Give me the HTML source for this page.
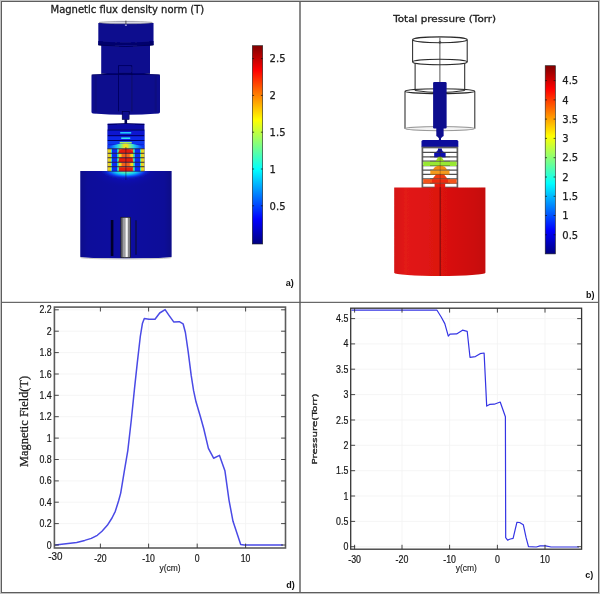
<!DOCTYPE html>
<html lang="en"><head><meta charset="utf-8"><title>Figure</title>
<style>html,body{margin:0;padding:0;background:#fff}svg{display:block}.dj{font-family:"DejaVu Sans","Liberation Sans",sans-serif}.ls{font-family:"Liberation Sans",sans-serif}.se{font-family:"Liberation Serif",serif}</style></head><body>
<svg width="600" height="594" viewBox="0 0 600 594">
<defs>
<linearGradient id="jet" x1="0" y1="0" x2="0" y2="1"><stop offset="0.000" stop-color="#800000"/><stop offset="0.125" stop-color="#ff0000"/><stop offset="0.250" stop-color="#ff8000"/><stop offset="0.375" stop-color="#ffff00"/><stop offset="0.500" stop-color="#80ff80"/><stop offset="0.625" stop-color="#00ffff"/><stop offset="0.750" stop-color="#0080ff"/><stop offset="0.875" stop-color="#0000ff"/><stop offset="1.000" stop-color="#000080"/></linearGradient>
<filter id="b1" x="-5%" y="-5%" width="110%" height="110%"><feGaussianBlur stdDeviation="0.45"/></filter>
<filter id="b2" x="-5%" y="-5%" width="110%" height="110%"><feGaussianBlur stdDeviation="0.8"/></filter>
<radialGradient id="glow" cx="0.5" cy="0.5" r="0.5"><stop offset="0" stop-color="#e0f030"/><stop offset="0.22" stop-color="#50f0b0"/><stop offset="0.42" stop-color="#10c8f8"/><stop offset="0.68" stop-color="#0838f0"/><stop offset="1" stop-color="#0c0c90" stop-opacity="0"/></radialGradient>
<clipPath id="gclip"><rect x="80" y="171.2" width="92" height="30"/></clipPath>
<linearGradient id="cyl" x1="0" y1="0" x2="1" y2="0"><stop offset="0" stop-color="#50505a"/><stop offset="0.3" stop-color="#b4b4ba"/><stop offset="0.6" stop-color="#f8f8f8"/><stop offset="0.8" stop-color="#c0c0c6"/><stop offset="1" stop-color="#60606a"/></linearGradient>
<linearGradient id="redg" x1="0" y1="0" x2="1" y2="0"><stop offset="0" stop-color="#d41412"/><stop offset="0.12" stop-color="#e21a16"/><stop offset="0.5" stop-color="#dc1210"/><stop offset="0.88" stop-color="#cc0e0c"/><stop offset="1" stop-color="#c40c0a"/></linearGradient>
<linearGradient id="lowg" x1="0" y1="0" x2="1" y2="0"><stop offset="0" stop-color="#08088a"/><stop offset="0.08" stop-color="#0a0a9a"/><stop offset="0.5" stop-color="#0b0ba0"/><stop offset="0.92" stop-color="#0a0a98"/><stop offset="1" stop-color="#080886"/></linearGradient>
<radialGradient id="halo" cx="0.5" cy="0.5" r="0.5"><stop offset="0" stop-color="#1030e8" stop-opacity="0.9"/><stop offset="0.5" stop-color="#0c18c8" stop-opacity="0.55"/><stop offset="1" stop-color="#0b0ba0" stop-opacity="0"/></radialGradient>
<linearGradient id="tband" x1="0" y1="0" x2="1" y2="0"><stop offset="0" stop-color="#0a38f0"/><stop offset="0.12" stop-color="#1068ff"/><stop offset="0.27" stop-color="#20d0f0"/><stop offset="0.38" stop-color="#80f080"/><stop offset="0.46" stop-color="#f0e020"/><stop offset="0.54" stop-color="#f0e020"/><stop offset="0.62" stop-color="#80f080"/><stop offset="0.73" stop-color="#20d0f0"/><stop offset="0.88" stop-color="#1068ff"/><stop offset="1" stop-color="#0a38f0"/></linearGradient>
</defs>
<rect width="600" height="594" fill="#fff"/>
<rect x="0" y="0" width="600" height="594" fill="#c2c2c2"/>
<rect x="1" y="1" width="598" height="592" fill="#5e5e5e"/>
<rect x="2" y="2" width="596" height="590" fill="#ffffff"/>
<rect x="299" y="2" width="2" height="590" fill="#8a8a8a"/>
<rect x="2" y="301.8" width="596" height="1.1" fill="#585858"/>
<g id="pa">
<text class="dj" x="50.5" y="12.7" font-size="10" fill="#1c1c1c" stroke="#1c1c1c" stroke-width="0.3">Magnetic flux density norm (T)</text>
<g filter="url(#b1)">
<path d="M98.3 23 L98.3 45 Q125.7 48 153.5 45 L153.5 23 Q125.7 20 98.3 23 Z" fill="#0a0a8e"/>
<ellipse cx="125.7" cy="22.6" rx="26.6" ry="1.25" fill="#d8d8e2" stroke="#666" stroke-width="0.4"/>
<line x1="125.9" y1="20.6" x2="125.9" y2="24.2" stroke="#222" stroke-width="0.7"/>
<rect x="124.9" y="24.6" width="2" height="1.2" fill="#b0b0e0"/>
<path d="M98.3 41 L98.3 45 Q125.7 48 153.5 45 L153.5 41 Q125.7 44 98.3 41 Z" fill="#06066c"/>
<path d="M101.2 45 L101.2 73.5 Q125.7 76 150 73.5 L150 45 Z" fill="#0a0a8e"/>
<path d="M91.5 76 Q91.5 74.6 93 74.6 Q125.7 72.6 158.5 74.6 Q160 74.6 160 76 L160 112 Q160 113.4 158.5 113.5 Q125.7 116 93 113.5 Q91.5 113.4 91.5 112 Z" fill="#0a0a8e"/>
<rect x="94.5" y="76" width="2.2" height="36" fill="#07077a" opacity="0.7"/>
<rect x="154.6" y="76" width="2.2" height="36" fill="#07077a" opacity="0.7"/>
<path d="M98.3 45 Q125.7 48 153.5 45" fill="none" stroke="#04044a" stroke-width="0.8"/>
<path d="M91.5 75 Q125.7 72.5 160 75" fill="none" stroke="#04044a" stroke-width="0.6"/>
<path d="M101.2 73.5 Q125.7 76 150 73.5" fill="none" stroke="#04044a" stroke-width="0.6"/>
<path d="M118.5 111.5 L118.5 65.6 L131.9 65.6 L131.9 111.5 M118.5 73.3 L131.9 73.3" fill="none" stroke="#04044e" stroke-width="0.65"/>
<rect x="122.2" y="111.3" width="6.9" height="8.2" fill="#0a0a8e" stroke="#03033c" stroke-width="0.6"/>
<rect x="124.5" y="119.3" width="2.6" height="4.8" fill="#06065a"/>
<path d="M80.3 171 L171.6 171 L171.6 257 A45.65 1.4 0 0 1 80.3 257 Z" fill="url(#lowg)"/>
<path d="M80.6 257.5 A45.35 1.5 0 0 0 171.3 257.5" fill="none" stroke="#c4c4bc" stroke-width="0.9"/>
<ellipse cx="125.9" cy="170.6" rx="36" ry="17" fill="url(#halo)" clip-path="url(#gclip)"/>
<ellipse cx="125.9" cy="170.6" rx="27" ry="9" fill="url(#glow)" clip-path="url(#gclip)"/>
</g>
<g filter="url(#b1)">
<rect x="107.6" y="123.6" width="36.80000000000001" height="47.6" fill="#0a0aa8"/>
<path d="M107.6 124.6 Q125.7 122.3 144.4 124.6" fill="none" stroke="#03034a" stroke-width="0.8"/>
<rect x="107.6" y="130.4" width="36.80000000000001" height="4.799999999999983" fill="#0b18d0"/>
<rect x="120.2" y="132.0" width="11" height="1.6" fill="#20c8ff"/>
<rect x="107.6" y="136.1" width="36.80000000000001" height="4.200000000000017" fill="#0c28e8"/>
<rect x="121.2" y="137.39999999999998" width="9" height="1.6" fill="#30e0f0"/>
<rect x="107.6" y="140.8" width="36.80000000000001" height="3.799999999999983" fill="#1038f0"/>
<rect x="119.7" y="141.89999999999998" width="12" height="1.6" fill="#a0f060"/>
<line x1="107.6" y1="130" x2="144.4" y2="130" stroke="#04045a" stroke-width="0.9"/>
<line x1="107.6" y1="135.7" x2="144.4" y2="135.7" stroke="#04045a" stroke-width="0.9"/>
<line x1="107.6" y1="140.5" x2="144.4" y2="140.5" stroke="#04045a" stroke-width="0.9"/>
<rect x="107.6" y="144.8" width="36.80000000000001" height="4.2" fill="#0a38f0"/>
<clipPath id="tclip"><rect x="107.6" y="140" width="36.80000000000001" height="8.9"/></clipPath>
<ellipse cx="125.7" cy="149.2" rx="18.4" ry="5.6" fill="url(#tband)" clip-path="url(#tclip)"/>
<rect x="107.60" y="148.80" width="3.4" height="4.48" fill="#e6d424"/>
<rect x="141.00" y="148.80" width="3.4" height="4.48" fill="#e6d424"/>
<rect x="111.00" y="148.80" width="1.1" height="4.48" fill="#30e0d0"/>
<rect x="139.90" y="148.80" width="1.1" height="4.48" fill="#30e0d0"/>
<rect x="112.10" y="148.80" width="5.0" height="4.48" fill="#0a2cf0"/>
<rect x="134.90" y="148.80" width="5.0" height="4.48" fill="#0a2cf0"/>
<rect x="117.10" y="148.80" width="1.0" height="4.48" fill="#20d8e8"/>
<rect x="133.90" y="148.80" width="1.0" height="4.48" fill="#20d8e8"/>
<rect x="118.10" y="148.80" width="1.0" height="4.48" fill="#70f080"/>
<rect x="132.90" y="148.80" width="1.0" height="4.48" fill="#70f080"/>
<rect x="119.10" y="148.80" width="13.80" height="4.48" fill="#f4541a"/>
<rect x="107.60" y="153.28" width="3.4" height="4.48" fill="#e6d424"/>
<rect x="141.00" y="153.28" width="3.4" height="4.48" fill="#e6d424"/>
<rect x="111.00" y="153.28" width="1.1" height="4.48" fill="#30e0d0"/>
<rect x="139.90" y="153.28" width="1.1" height="4.48" fill="#30e0d0"/>
<rect x="112.10" y="153.28" width="5.0" height="4.48" fill="#0a2cf0"/>
<rect x="134.90" y="153.28" width="5.0" height="4.48" fill="#0a2cf0"/>
<rect x="117.10" y="153.28" width="1.0" height="4.48" fill="#20d8e8"/>
<rect x="133.90" y="153.28" width="1.0" height="4.48" fill="#20d8e8"/>
<rect x="118.10" y="153.28" width="1.0" height="4.48" fill="#70f080"/>
<rect x="132.90" y="153.28" width="1.0" height="4.48" fill="#70f080"/>
<rect x="119.10" y="153.28" width="13.80" height="4.48" fill="#ffb214"/>
<rect x="119.10" y="153.28" width="1.6" height="4.48" fill="#f0e020"/>
<rect x="131.30" y="153.28" width="1.6" height="4.48" fill="#f0e020"/>
<rect x="121.70" y="153.28" width="8" height="4.48" fill="#f4601a"/>
<rect x="107.60" y="157.76" width="3.4" height="4.48" fill="#e6d424"/>
<rect x="141.00" y="157.76" width="3.4" height="4.48" fill="#e6d424"/>
<rect x="111.00" y="157.76" width="1.1" height="4.48" fill="#30e0d0"/>
<rect x="139.90" y="157.76" width="1.1" height="4.48" fill="#30e0d0"/>
<rect x="112.10" y="157.76" width="5.0" height="4.48" fill="#0a2cf0"/>
<rect x="134.90" y="157.76" width="5.0" height="4.48" fill="#0a2cf0"/>
<rect x="117.10" y="157.76" width="1.0" height="4.48" fill="#20d8e8"/>
<rect x="133.90" y="157.76" width="1.0" height="4.48" fill="#20d8e8"/>
<rect x="118.10" y="157.76" width="1.0" height="4.48" fill="#70f080"/>
<rect x="132.90" y="157.76" width="1.0" height="4.48" fill="#70f080"/>
<rect x="119.10" y="157.76" width="13.80" height="4.48" fill="#f4541a"/>
<rect x="107.60" y="162.24" width="3.4" height="4.48" fill="#e6d424"/>
<rect x="141.00" y="162.24" width="3.4" height="4.48" fill="#e6d424"/>
<rect x="111.00" y="162.24" width="1.1" height="4.48" fill="#30e0d0"/>
<rect x="139.90" y="162.24" width="1.1" height="4.48" fill="#30e0d0"/>
<rect x="112.10" y="162.24" width="5.0" height="4.48" fill="#0a2cf0"/>
<rect x="134.90" y="162.24" width="5.0" height="4.48" fill="#0a2cf0"/>
<rect x="117.10" y="162.24" width="1.0" height="4.48" fill="#20d8e8"/>
<rect x="133.90" y="162.24" width="1.0" height="4.48" fill="#20d8e8"/>
<rect x="118.10" y="162.24" width="1.0" height="4.48" fill="#70f080"/>
<rect x="132.90" y="162.24" width="1.0" height="4.48" fill="#70f080"/>
<rect x="119.10" y="162.24" width="13.80" height="4.48" fill="#ffb214"/>
<rect x="119.10" y="162.24" width="1.6" height="4.48" fill="#f0e020"/>
<rect x="131.30" y="162.24" width="1.6" height="4.48" fill="#f0e020"/>
<rect x="121.70" y="162.24" width="8" height="4.48" fill="#f4601a"/>
<rect x="107.60" y="166.72" width="3.4" height="4.48" fill="#e6d424"/>
<rect x="141.00" y="166.72" width="3.4" height="4.48" fill="#e6d424"/>
<rect x="111.00" y="166.72" width="1.1" height="4.48" fill="#30e0d0"/>
<rect x="139.90" y="166.72" width="1.1" height="4.48" fill="#30e0d0"/>
<rect x="112.10" y="166.72" width="5.0" height="4.48" fill="#0a2cf0"/>
<rect x="134.90" y="166.72" width="5.0" height="4.48" fill="#0a2cf0"/>
<rect x="117.10" y="166.72" width="1.0" height="4.48" fill="#20d8e8"/>
<rect x="133.90" y="166.72" width="1.0" height="4.48" fill="#20d8e8"/>
<rect x="118.10" y="166.72" width="1.0" height="4.48" fill="#70f080"/>
<rect x="132.90" y="166.72" width="1.0" height="4.48" fill="#70f080"/>
<rect x="119.10" y="166.72" width="13.80" height="4.48" fill="#f4541a"/>
<path d="M118.10000000000001 153.28 Q118.7 149.40 125.7 149.10 Q132.7 149.40 133.3 153.28 Z" fill="#e41a0a"/>
<path d="M118.3 162.24 L119.7 157.76 L131.7 157.76 L133.1 162.24 Z" fill="#e41a0a"/>
<rect x="119.10000000000001" y="167.72" width="13.2" height="3.48" fill="#e41a0a"/>
<line x1="107.6" y1="148.80" x2="144.4" y2="148.80" stroke="#28204a" stroke-width="0.9"/>
<line x1="107.6" y1="153.28" x2="144.4" y2="153.28" stroke="#28204a" stroke-width="0.9"/>
<line x1="107.6" y1="157.76" x2="144.4" y2="157.76" stroke="#28204a" stroke-width="0.9"/>
<line x1="107.6" y1="162.24" x2="144.4" y2="162.24" stroke="#28204a" stroke-width="0.9"/>
<line x1="107.6" y1="166.72" x2="144.4" y2="166.72" stroke="#28204a" stroke-width="0.9"/>
<line x1="107.6" y1="171.2" x2="144.4" y2="171.2" stroke="#202060" stroke-width="0.6"/>
</g>
<line x1="125.9" y1="147" x2="125.9" y2="180" stroke="#101030" stroke-width="0.5"/>
<g filter="url(#b1)">
<rect x="120.9" y="217.3" width="9.4" height="40.3" fill="url(#cyl)" stroke="#1a1a1a" stroke-width="0.7"/>
<line x1="124.9" y1="218" x2="124.9" y2="258" stroke="#555" stroke-width="0.6"/>
<line x1="122.8" y1="218" x2="122.8" y2="258" stroke="#444" stroke-width="0.5"/>
<line x1="128.6" y1="218" x2="128.6" y2="258" stroke="#444" stroke-width="0.5"/>
<rect x="110.8" y="220" width="2.6" height="36" fill="#04042a"/>
<rect x="135" y="220.5" width="2" height="34" fill="#070760"/>
</g>
<rect x="252.3" y="45.7" width="10.4" height="198.3" fill="url(#jet)" stroke="#222" stroke-width="0.6"/>
<path d="M252.3 58.6 h1.8 M262.7 58.6 h-1.8" stroke="#111" stroke-width="0.7"/>
<text class="dj" x="269.6" y="62.3" font-size="10" fill="#1c1c1c" stroke="#1c1c1c" stroke-width="0.25">2.5</text>
<path d="M252.3 95.4 h1.8 M262.7 95.4 h-1.8" stroke="#111" stroke-width="0.7"/>
<text class="dj" x="269.6" y="99.1" font-size="10" fill="#1c1c1c" stroke="#1c1c1c" stroke-width="0.25">2</text>
<path d="M252.3 132.2 h1.8 M262.7 132.2 h-1.8" stroke="#111" stroke-width="0.7"/>
<text class="dj" x="269.6" y="135.9" font-size="10" fill="#1c1c1c" stroke="#1c1c1c" stroke-width="0.25">1.5</text>
<path d="M252.3 169.0 h1.8 M262.7 169.0 h-1.8" stroke="#111" stroke-width="0.7"/>
<text class="dj" x="269.6" y="172.7" font-size="10" fill="#1c1c1c" stroke="#1c1c1c" stroke-width="0.25">1</text>
<path d="M252.3 205.8 h1.8 M262.7 205.8 h-1.8" stroke="#111" stroke-width="0.7"/>
<text class="dj" x="269.6" y="209.5" font-size="10" fill="#1c1c1c" stroke="#1c1c1c" stroke-width="0.25">0.5</text>
<text class="ls" x="285.7" y="286.4" font-size="9" font-weight="bold" fill="#111">a)</text>
</g>
<g id="pb">
<text class="dj" font-size="9.1" fill="#1c1c1c" stroke="#1c1c1c" stroke-width="0.3" transform="translate(393.2 21.7) scale(1.14 1)">Total pressure (Torr)</text>
<g filter="url(#b1)">
<g fill="none" stroke="#2c2c2c" stroke-width="1.05">
<ellipse cx="439.9" cy="39.8" rx="27.3" ry="2.9"/>
<path d="M412.6 39.8 V62 M467.2 39.8 V62"/>
<ellipse cx="439.9" cy="62" rx="27.3" ry="2.8"/>
<path d="M415.1 63 V90.6 M464.7 63 V90.6"/>
<path d="M415.1 90.6 Q439.9 94.6 464.7 90.6"/>
<ellipse cx="439.9" cy="91.2" rx="34.9" ry="2.4"/>
<path d="M405 91.4 V128.8 M474.8 91.4 V128.8"/>
<ellipse cx="439.9" cy="128.6" rx="34.9" ry="2.1" stroke="#9a9a9a" fill="#f4f4f4"/>
<line x1="439.9" y1="37.5" x2="439.9" y2="82" stroke-width="0.8"/>
<circle cx="439.9" cy="42.3" r="1" stroke-width="0.6"/>
</g>
<rect x="433.1" y="82" width="13.5" height="46.5" rx="1.2" fill="#0b0b8e"/>
<rect x="436.3" y="128" width="7.3" height="8.2" fill="#0b0b8e"/>
<path d="M436.8 136 L443.2 136 L441 138.3 L441 140.6 L438.9 140.6 L438.9 138.3 Z" fill="#0b0b8e"/>
<rect x="421.5" y="140" width="36.8" height="7.7" rx="1.5" fill="#0c0c9c"/>
<rect x="422.4" y="147.5" width="35" height="40" fill="#fff" stroke="#606060" stroke-width="1.7"/>
<line x1="422.2" y1="152.48" x2="457.6" y2="152.48" stroke="#505050" stroke-width="1.25"/>
<line x1="422.2" y1="156.86" x2="457.6" y2="156.86" stroke="#505050" stroke-width="1.25"/>
<line x1="422.2" y1="161.24" x2="457.6" y2="161.24" stroke="#505050" stroke-width="1.25"/>
<line x1="422.2" y1="165.62" x2="457.6" y2="165.62" stroke="#505050" stroke-width="1.25"/>
<line x1="422.2" y1="170.00" x2="457.6" y2="170.00" stroke="#505050" stroke-width="1.25"/>
<line x1="422.2" y1="174.38" x2="457.6" y2="174.38" stroke="#505050" stroke-width="1.25"/>
<line x1="422.2" y1="178.76" x2="457.6" y2="178.76" stroke="#505050" stroke-width="1.25"/>
<line x1="422.2" y1="183.14" x2="457.6" y2="183.14" stroke="#505050" stroke-width="1.25"/>
<rect x="438" y="148.50" width="3.8000000000000114" height="4.38" fill="#0c0c9c"/>
<path d="M435 152.48 Q437.8 151.48 438 149.60 L441.8 149.60 Q442 151.48 444.8 152.48 Z" fill="#0c0c9c"/>
<rect x="434.2" y="152.88" width="11.400000000000034" height="4.38" fill="#0c0cb0"/>
<path d="M435.5 161.24 L438.5 156.86 L441.3 156.86 L444.3 161.24 Z" fill="#9ad820"/>
<rect x="423.2" y="161.64" width="33.400000000000034" height="4.38" fill="#98e830"/>
<path d="M433 170.00 Q434 166.12 439.9 165.62 Q446 166.12 447 170.00 Z" fill="#f08a18"/>
<rect x="430.3" y="170.40" width="19.19999999999999" height="4.38" fill="#f59a1c"/>
<path d="M432.5 178.76 L436 174.38 L444 174.38 L447.5 178.76 Z" fill="#f03c10"/>
<rect x="423.2" y="179.16" width="33.400000000000034" height="4.38" fill="#f4541a"/>
<rect x="432" y="179.36" width="16" height="3.4" fill="#ee2a10"/>
<rect x="434.6" y="183.54" width="10.599999999999966" height="4.38" fill="#e81a10"/>
<line x1="430" y1="152.48" x2="450" y2="152.48" stroke="#303030" stroke-width="0.9" opacity="0.45"/>
<line x1="430" y1="156.86" x2="450" y2="156.86" stroke="#303030" stroke-width="0.9" opacity="0.45"/>
<line x1="430" y1="161.24" x2="450" y2="161.24" stroke="#303030" stroke-width="0.9" opacity="0.45"/>
<line x1="430" y1="165.62" x2="450" y2="165.62" stroke="#303030" stroke-width="0.9" opacity="0.45"/>
<line x1="430" y1="170.00" x2="450" y2="170.00" stroke="#303030" stroke-width="0.9" opacity="0.45"/>
<line x1="430" y1="174.38" x2="450" y2="174.38" stroke="#303030" stroke-width="0.9" opacity="0.45"/>
<line x1="430" y1="178.76" x2="450" y2="178.76" stroke="#303030" stroke-width="0.9" opacity="0.45"/>
<line x1="430" y1="183.14" x2="450" y2="183.14" stroke="#303030" stroke-width="0.9" opacity="0.45"/>
<path d="M394.2 187.6 L485.4 187.6 L485.4 272.8 A45.6 3.2 0 0 1 394.2 272.8 Z" fill="url(#redg)"/>
<line x1="440.2" y1="150" x2="440.2" y2="187" stroke="#401010" stroke-width="0.5" opacity="0.6"/>
<line x1="440.2" y1="187" x2="440.2" y2="276" stroke="#4a0806" stroke-width="0.7"/>
</g>
<rect x="545.2" y="65.7" width="10.2" height="188.2" fill="url(#jet)" stroke="#222" stroke-width="0.6"/>
<path d="M545.2 234.8 h1.8 M555.4 234.8 h-1.8" stroke="#111" stroke-width="0.7"/>
<text class="dj" x="562.3" y="238.5" font-size="10" fill="#1c1c1c" stroke="#1c1c1c" stroke-width="0.25">0.5</text>
<path d="M545.2 215.5 h1.8 M555.4 215.5 h-1.8" stroke="#111" stroke-width="0.7"/>
<text class="dj" x="562.3" y="219.2" font-size="10" fill="#1c1c1c" stroke="#1c1c1c" stroke-width="0.25">1</text>
<path d="M545.2 196.3 h1.8 M555.4 196.3 h-1.8" stroke="#111" stroke-width="0.7"/>
<text class="dj" x="562.3" y="200.0" font-size="10" fill="#1c1c1c" stroke="#1c1c1c" stroke-width="0.25">1.5</text>
<path d="M545.2 177.0 h1.8 M555.4 177.0 h-1.8" stroke="#111" stroke-width="0.7"/>
<text class="dj" x="562.3" y="180.7" font-size="10" fill="#1c1c1c" stroke="#1c1c1c" stroke-width="0.25">2</text>
<path d="M545.2 157.7 h1.8 M555.4 157.7 h-1.8" stroke="#111" stroke-width="0.7"/>
<text class="dj" x="562.3" y="161.4" font-size="10" fill="#1c1c1c" stroke="#1c1c1c" stroke-width="0.25">2.5</text>
<path d="M545.2 138.4 h1.8 M555.4 138.4 h-1.8" stroke="#111" stroke-width="0.7"/>
<text class="dj" x="562.3" y="142.1" font-size="10" fill="#1c1c1c" stroke="#1c1c1c" stroke-width="0.25">3</text>
<path d="M545.2 119.1 h1.8 M555.4 119.1 h-1.8" stroke="#111" stroke-width="0.7"/>
<text class="dj" x="562.3" y="122.8" font-size="10" fill="#1c1c1c" stroke="#1c1c1c" stroke-width="0.25">3.5</text>
<path d="M545.2 99.9 h1.8 M555.4 99.9 h-1.8" stroke="#111" stroke-width="0.7"/>
<text class="dj" x="562.3" y="103.6" font-size="10" fill="#1c1c1c" stroke="#1c1c1c" stroke-width="0.25">4</text>
<path d="M545.2 80.6 h1.8 M555.4 80.6 h-1.8" stroke="#111" stroke-width="0.7"/>
<text class="dj" x="562.3" y="84.3" font-size="10" fill="#1c1c1c" stroke="#1c1c1c" stroke-width="0.25">4.5</text>
<text class="ls" x="585.9" y="297.6" font-size="9" font-weight="bold" fill="#111">b)</text>
</g>
<g>
<line x1="148.6" y1="307.1" x2="148.6" y2="548" stroke="#f2f2f2" stroke-width="0.8"/>
<line x1="197.2" y1="307.1" x2="197.2" y2="548" stroke="#f2f2f2" stroke-width="0.8"/>
<line x1="245.6" y1="307.1" x2="245.6" y2="548" stroke="#f2f2f2" stroke-width="0.8"/>
<line x1="54.4" y1="545.0" x2="285.5" y2="545.0" stroke="#f2f2f2" stroke-width="0.8"/>
<line x1="54.4" y1="523.6" x2="285.5" y2="523.6" stroke="#f2f2f2" stroke-width="0.8"/>
<line x1="54.4" y1="502.2" x2="285.5" y2="502.2" stroke="#f2f2f2" stroke-width="0.8"/>
<line x1="54.4" y1="480.9" x2="285.5" y2="480.9" stroke="#f2f2f2" stroke-width="0.8"/>
<line x1="54.4" y1="459.5" x2="285.5" y2="459.5" stroke="#f2f2f2" stroke-width="0.8"/>
<line x1="54.4" y1="438.1" x2="285.5" y2="438.1" stroke="#f2f2f2" stroke-width="0.8"/>
<line x1="54.4" y1="416.7" x2="285.5" y2="416.7" stroke="#f2f2f2" stroke-width="0.8"/>
<line x1="54.4" y1="395.3" x2="285.5" y2="395.3" stroke="#f2f2f2" stroke-width="0.8"/>
<line x1="54.4" y1="374.0" x2="285.5" y2="374.0" stroke="#f2f2f2" stroke-width="0.8"/>
<line x1="54.4" y1="352.6" x2="285.5" y2="352.6" stroke="#f2f2f2" stroke-width="0.8"/>
<line x1="54.4" y1="331.2" x2="285.5" y2="331.2" stroke="#f2f2f2" stroke-width="0.8"/>
<line x1="54.4" y1="309.8" x2="285.5" y2="309.8" stroke="#f2f2f2" stroke-width="0.8"/>
<path d="M55.4 544.9 L66.0 543.7 L76.7 542.4 L84.7 540.4 L91.3 538.4 L97.3 535.3 L102.0 531.3 L107.3 525.3 L112.0 518.0 L115.3 511.3 L118.7 500.5 L120.7 493.1 L124.2 471.9 L127.8 450.6 L131.3 420.0 L134.4 389.6 L137.2 363.6 L140.3 336.5 L142.4 323.6 L144.3 318.6 L149.0 319.3 L155.0 319.3 L159.7 313.0 L165.1 309.6 L169.0 315.3 L173.7 321.9 L179.3 321.7 L183.1 323.8 L185.4 332.5 L188.2 351.9 L191.2 375.4 L193.6 390.7 L196.0 401.8 L200.5 417.0 L203.7 428.5 L208.4 448.3 L213.6 458.2 L219.5 455.4 L224.9 470.7 L229.0 500.1 L233.0 521.3 L240.7 544.4 L244.3 545.1 L282.5 545.1" fill="none" stroke="#4a4ae6" stroke-width="1.5" stroke-linejoin="round" stroke-linecap="round"/>
<rect x="54.4" y="307.1" width="231.1" height="240.89999999999998" fill="none" stroke="#5c5c5c" stroke-width="1.6"/>
<path d="M100.4 548 v-4.4 M100.4 307.1 v4.4 M148.6 548 v-4.4 M148.6 307.1 v4.4 M197.2 548 v-4.4 M197.2 307.1 v4.4 M245.6 548 v-4.4 M245.6 307.1 v4.4 M54.4 545.0 h4.4 M285.5 545.0 h-4.4 M54.4 523.6 h4.4 M285.5 523.6 h-4.4 M54.4 502.2 h4.4 M285.5 502.2 h-4.4 M54.4 480.9 h4.4 M285.5 480.9 h-4.4 M54.4 459.5 h4.4 M285.5 459.5 h-4.4 M54.4 438.1 h4.4 M285.5 438.1 h-4.4 M54.4 416.7 h4.4 M285.5 416.7 h-4.4 M54.4 395.3 h4.4 M285.5 395.3 h-4.4 M54.4 374.0 h4.4 M285.5 374.0 h-4.4 M54.4 352.6 h4.4 M285.5 352.6 h-4.4 M54.4 331.2 h4.4 M285.5 331.2 h-4.4 M54.4 309.8 h4.4 M285.5 309.8 h-4.4" stroke="#333" stroke-width="0.9" fill="none"/>
<text class="ls" x="55.4" y="559.8" font-size="11.6" text-anchor="middle" fill="#161616" stroke="#161616" stroke-width="0.2" transform="translate(55.4 0) scale(0.85 1) translate(-55.4 0)">-30</text>
<text class="ls" x="100.4" y="562.1" font-size="10.2" text-anchor="middle" fill="#161616" stroke="#161616" stroke-width="0.2" transform="translate(100.4 0) scale(0.85 1) translate(-100.4 0)">-20</text>
<text class="ls" x="148.6" y="562.1" font-size="10.2" text-anchor="middle" fill="#161616" stroke="#161616" stroke-width="0.2" transform="translate(148.6 0) scale(0.85 1) translate(-148.6 0)">-10</text>
<text class="ls" x="197.2" y="562.1" font-size="10.2" text-anchor="middle" fill="#161616" stroke="#161616" stroke-width="0.2" transform="translate(197.2 0) scale(0.85 1) translate(-197.2 0)">0</text>
<text class="ls" x="245.6" y="562.1" font-size="10.2" text-anchor="middle" fill="#161616" stroke="#161616" stroke-width="0.2" transform="translate(245.6 0) scale(0.85 1) translate(-245.6 0)">10</text>
<text class="ls" x="51.7" y="548.6" font-size="10.4" text-anchor="end" fill="#161616" stroke="#161616" stroke-width="0.2" transform="translate(51.7 0) scale(0.85 1) translate(-51.7 0)">0</text>
<text class="ls" x="51.7" y="527.2" font-size="10.4" text-anchor="end" fill="#161616" stroke="#161616" stroke-width="0.2" transform="translate(51.7 0) scale(0.85 1) translate(-51.7 0)">0.2</text>
<text class="ls" x="51.7" y="505.8" font-size="10.4" text-anchor="end" fill="#161616" stroke="#161616" stroke-width="0.2" transform="translate(51.7 0) scale(0.85 1) translate(-51.7 0)">0.4</text>
<text class="ls" x="51.7" y="484.5" font-size="10.4" text-anchor="end" fill="#161616" stroke="#161616" stroke-width="0.2" transform="translate(51.7 0) scale(0.85 1) translate(-51.7 0)">0.6</text>
<text class="ls" x="51.7" y="463.1" font-size="10.4" text-anchor="end" fill="#161616" stroke="#161616" stroke-width="0.2" transform="translate(51.7 0) scale(0.85 1) translate(-51.7 0)">0.8</text>
<text class="ls" x="51.7" y="441.7" font-size="10.4" text-anchor="end" fill="#161616" stroke="#161616" stroke-width="0.2" transform="translate(51.7 0) scale(0.85 1) translate(-51.7 0)">1</text>
<text class="ls" x="51.7" y="420.3" font-size="10.4" text-anchor="end" fill="#161616" stroke="#161616" stroke-width="0.2" transform="translate(51.7 0) scale(0.85 1) translate(-51.7 0)">1.2</text>
<text class="ls" x="51.7" y="398.9" font-size="10.4" text-anchor="end" fill="#161616" stroke="#161616" stroke-width="0.2" transform="translate(51.7 0) scale(0.85 1) translate(-51.7 0)">1.4</text>
<text class="ls" x="51.7" y="377.6" font-size="10.4" text-anchor="end" fill="#161616" stroke="#161616" stroke-width="0.2" transform="translate(51.7 0) scale(0.85 1) translate(-51.7 0)">1.6</text>
<text class="ls" x="51.7" y="356.2" font-size="10.4" text-anchor="end" fill="#161616" stroke="#161616" stroke-width="0.2" transform="translate(51.7 0) scale(0.85 1) translate(-51.7 0)">1.8</text>
<text class="ls" x="51.7" y="334.8" font-size="10.4" text-anchor="end" fill="#161616" stroke="#161616" stroke-width="0.2" transform="translate(51.7 0) scale(0.85 1) translate(-51.7 0)">2</text>
<text class="ls" x="51.7" y="313.4" font-size="10.4" text-anchor="end" fill="#161616" stroke="#161616" stroke-width="0.2" transform="translate(51.7 0) scale(0.85 1) translate(-51.7 0)">2.2</text>
</g>
<text class="ls" x="170" y="570.6" font-size="9.6" text-anchor="middle" fill="#1c1c1c" stroke="#1c1c1c" stroke-width="0.15" transform="translate(170 0) scale(0.88 1) translate(-170 0)">y(cm)</text>
<text class="se" font-size="12.4" fill="#161616" stroke="#161616" stroke-width="0.25" transform="translate(27.9 467) rotate(-90)">Magnetic Field(T)</text>
<text class="ls" x="286.3" y="588.1" font-size="9" font-weight="bold" fill="#111">d)</text>
<g>
<line x1="402" y1="308.2" x2="402" y2="549.2" stroke="#f2f2f2" stroke-width="0.8"/>
<line x1="449.6" y1="308.2" x2="449.6" y2="549.2" stroke="#f2f2f2" stroke-width="0.8"/>
<line x1="497.4" y1="308.2" x2="497.4" y2="549.2" stroke="#f2f2f2" stroke-width="0.8"/>
<line x1="545" y1="308.2" x2="545" y2="549.2" stroke="#f2f2f2" stroke-width="0.8"/>
<line x1="350.7" y1="546.7" x2="581.6" y2="546.7" stroke="#f2f2f2" stroke-width="0.8"/>
<line x1="350.7" y1="521.4" x2="581.6" y2="521.4" stroke="#f2f2f2" stroke-width="0.8"/>
<line x1="350.7" y1="496.0" x2="581.6" y2="496.0" stroke="#f2f2f2" stroke-width="0.8"/>
<line x1="350.7" y1="470.7" x2="581.6" y2="470.7" stroke="#f2f2f2" stroke-width="0.8"/>
<line x1="350.7" y1="445.3" x2="581.6" y2="445.3" stroke="#f2f2f2" stroke-width="0.8"/>
<line x1="350.7" y1="420.0" x2="581.6" y2="420.0" stroke="#f2f2f2" stroke-width="0.8"/>
<line x1="350.7" y1="394.6" x2="581.6" y2="394.6" stroke="#f2f2f2" stroke-width="0.8"/>
<line x1="350.7" y1="369.2" x2="581.6" y2="369.2" stroke="#f2f2f2" stroke-width="0.8"/>
<line x1="350.7" y1="343.9" x2="581.6" y2="343.9" stroke="#f2f2f2" stroke-width="0.8"/>
<line x1="350.7" y1="318.6" x2="581.6" y2="318.6" stroke="#f2f2f2" stroke-width="0.8"/>
<path d="M352.0 310.2 L437.0 310.2 L441.2 317.0 L444.8 323.6 L448.3 336.1 L450.0 334.2 L456.6 333.9 L462.5 330.2 L467.2 331.3 L470.0 357.3 L475.4 356.6 L480.1 353.7 L484.1 353.0 L486.7 406.1 L489.6 404.4 L494.3 404.2 L500.2 402.0 L505.4 416.7 L505.7 537.7 L507.6 540.1 L510.4 539.0 L513.1 538.4 L515.0 530.3 L516.9 522.3 L519.6 522.5 L523.3 524.7 L526.1 537.7 L528.5 546.6 L536.3 547.0 L540.0 545.9 L545.6 545.9 L551.1 547.0 L578.5 547.0" fill="none" stroke="#3434e4" stroke-width="1.2" stroke-linejoin="round" stroke-linecap="round"/>
<rect x="350.7" y="308.2" width="230.90000000000003" height="241.00000000000006" fill="none" stroke="#363636" stroke-width="1.3"/>
<path d="M354.6 549.2 v-4.4 M354.6 308.2 v4.4 M402 549.2 v-4.4 M402 308.2 v4.4 M449.6 549.2 v-4.4 M449.6 308.2 v4.4 M497.4 549.2 v-4.4 M497.4 308.2 v4.4 M545 549.2 v-4.4 M545 308.2 v4.4 M350.7 546.7 h4.4 M581.6 546.7 h-4.4 M350.7 521.4 h4.4 M581.6 521.4 h-4.4 M350.7 496.0 h4.4 M581.6 496.0 h-4.4 M350.7 470.7 h4.4 M581.6 470.7 h-4.4 M350.7 445.3 h4.4 M581.6 445.3 h-4.4 M350.7 420.0 h4.4 M581.6 420.0 h-4.4 M350.7 394.6 h4.4 M581.6 394.6 h-4.4 M350.7 369.2 h4.4 M581.6 369.2 h-4.4 M350.7 343.9 h4.4 M581.6 343.9 h-4.4 M350.7 318.6 h4.4 M581.6 318.6 h-4.4" stroke="#333" stroke-width="0.9" fill="none"/>
<text class="ls" x="354.6" y="563.2" font-size="10.4" text-anchor="middle" fill="#161616" stroke="#161616" stroke-width="0.2" transform="translate(354.6 0) scale(0.85 1) translate(-354.6 0)">-30</text>
<text class="ls" x="402" y="563.2" font-size="10.4" text-anchor="middle" fill="#161616" stroke="#161616" stroke-width="0.2" transform="translate(402 0) scale(0.85 1) translate(-402 0)">-20</text>
<text class="ls" x="449.6" y="563.2" font-size="10.4" text-anchor="middle" fill="#161616" stroke="#161616" stroke-width="0.2" transform="translate(449.6 0) scale(0.85 1) translate(-449.6 0)">-10</text>
<text class="ls" x="497.4" y="563.2" font-size="10.4" text-anchor="middle" fill="#161616" stroke="#161616" stroke-width="0.2" transform="translate(497.4 0) scale(0.85 1) translate(-497.4 0)">0</text>
<text class="ls" x="545" y="563.2" font-size="10.4" text-anchor="middle" fill="#161616" stroke="#161616" stroke-width="0.2" transform="translate(545 0) scale(0.85 1) translate(-545 0)">10</text>
<text class="ls" x="348.4" y="550.3" font-size="10.4" text-anchor="end" fill="#161616" stroke="#161616" stroke-width="0.2" transform="translate(348.4 0) scale(0.85 1) translate(-348.4 0)">0</text>
<text class="ls" x="348.4" y="525.0" font-size="10.4" text-anchor="end" fill="#161616" stroke="#161616" stroke-width="0.2" transform="translate(348.4 0) scale(0.85 1) translate(-348.4 0)">0.5</text>
<text class="ls" x="348.4" y="499.6" font-size="10.4" text-anchor="end" fill="#161616" stroke="#161616" stroke-width="0.2" transform="translate(348.4 0) scale(0.85 1) translate(-348.4 0)">1</text>
<text class="ls" x="348.4" y="474.3" font-size="10.4" text-anchor="end" fill="#161616" stroke="#161616" stroke-width="0.2" transform="translate(348.4 0) scale(0.85 1) translate(-348.4 0)">1.5</text>
<text class="ls" x="348.4" y="448.9" font-size="10.4" text-anchor="end" fill="#161616" stroke="#161616" stroke-width="0.2" transform="translate(348.4 0) scale(0.85 1) translate(-348.4 0)">2</text>
<text class="ls" x="348.4" y="423.6" font-size="10.4" text-anchor="end" fill="#161616" stroke="#161616" stroke-width="0.2" transform="translate(348.4 0) scale(0.85 1) translate(-348.4 0)">2.5</text>
<text class="ls" x="348.4" y="398.2" font-size="10.4" text-anchor="end" fill="#161616" stroke="#161616" stroke-width="0.2" transform="translate(348.4 0) scale(0.85 1) translate(-348.4 0)">3</text>
<text class="ls" x="348.4" y="372.9" font-size="10.4" text-anchor="end" fill="#161616" stroke="#161616" stroke-width="0.2" transform="translate(348.4 0) scale(0.85 1) translate(-348.4 0)">3.5</text>
<text class="ls" x="348.4" y="347.5" font-size="10.4" text-anchor="end" fill="#161616" stroke="#161616" stroke-width="0.2" transform="translate(348.4 0) scale(0.85 1) translate(-348.4 0)">4</text>
<text class="ls" x="348.4" y="322.2" font-size="10.4" text-anchor="end" fill="#161616" stroke="#161616" stroke-width="0.2" transform="translate(348.4 0) scale(0.85 1) translate(-348.4 0)">4.5</text>
</g>
<text class="ls" x="466.3" y="571.4" font-size="9.6" text-anchor="middle" fill="#1c1c1c" stroke="#1c1c1c" stroke-width="0.15" transform="translate(466.3 0) scale(0.88 1) translate(-466.3 0)">y(cm)</text>
<text class="dj" font-size="7.3" fill="#1c1c1c" stroke="#1c1c1c" stroke-width="0.3" transform="translate(316.7 464.5) rotate(-90) scale(1.41 1)">Pressure(Torr)</text>
<text class="ls" x="585.2" y="578.1" font-size="9" font-weight="bold" fill="#111">c)</text>
</svg></body></html>
